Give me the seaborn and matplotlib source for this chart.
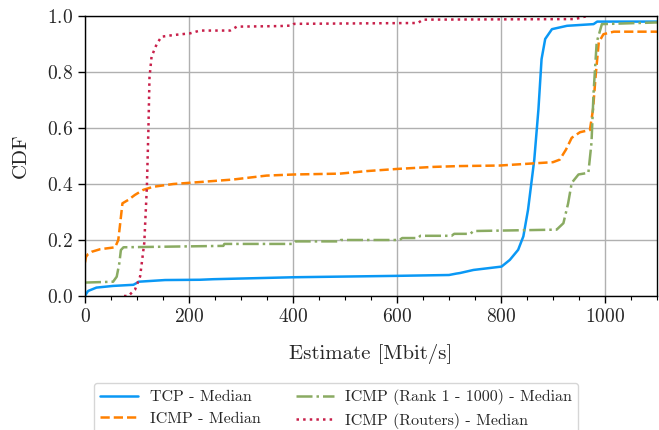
import matplotlib
matplotlib.use("Agg")
import matplotlib.pyplot as plt
import seaborn as sns
import pandas as pd
from matplotlib.ticker import MultipleLocator

# ---- data (x = Mbit/s, y = CDF) ----
tcp_x = [0, 3, 6, 22, 54, 93, 100, 103, 154, 221, 247, 402, 602, 700, 714, 721, 747,
         801, 817, 833, 843, 852, 864, 872, 878, 885, 898, 927, 978, 985, 1100]
tcp_y = [0, 0.01, 0.018, 0.03, 0.036, 0.04, 0.047, 0.051, 0.057, 0.058, 0.06, 0.067,
         0.072, 0.075, 0.08, 0.082, 0.093, 0.105, 0.129, 0.165, 0.213, 0.308, 0.487,
         0.667, 0.846, 0.918, 0.953, 0.965, 0.971, 0.98, 0.98]

icmp_x = [0, 2, 6, 13, 29, 58, 64, 67, 72, 83, 96, 112, 131, 170, 221, 285, 349, 402,
          490, 541, 602, 669, 719, 798, 900, 913, 925, 936, 952, 971, 977, 982, 988,
          997, 1017, 1100]
icmp_y = [0.12, 0.14, 0.15, 0.158, 0.167, 0.174, 0.2, 0.248, 0.331, 0.343, 0.361,
          0.379, 0.39, 0.4, 0.407, 0.416, 0.43, 0.434, 0.437, 0.446, 0.454, 0.461,
          0.464, 0.466, 0.478, 0.487, 0.523, 0.565, 0.585, 0.593, 0.667, 0.786, 0.906,
          0.935, 0.944, 0.944]

rank_x = [0, 54, 61, 66, 69, 74, 150, 266, 268, 400, 405, 490, 492, 605, 610, 640, 645,
          705, 710, 741, 747, 907, 920, 929, 936, 949, 968, 974, 978, 984, 994, 1100]
rank_y = [0.048, 0.051, 0.069, 0.117, 0.164, 0.174, 0.176, 0.179, 0.186, 0.186, 0.195,
          0.195, 0.2, 0.2, 0.207, 0.207, 0.215, 0.215, 0.222, 0.222, 0.232, 0.237, 0.26,
          0.33, 0.404, 0.434, 0.44, 0.547, 0.726, 0.906, 0.971, 0.977]

router_x = [75, 83, 96, 106, 114, 119, 122, 124, 128, 138, 147, 170, 202, 221, 279, 292,
            375, 398, 402, 640, 650, 940, 952, 965]
router_y = [0.0, 0.0, 0.022, 0.07, 0.19, 0.39, 0.6, 0.78, 0.855, 0.9, 0.926, 0.932,
            0.938, 0.948, 0.948, 0.962, 0.964, 0.966, 0.972, 0.975, 0.987, 0.989, 0.993,
            1.0]

labels = ["TCP - Median", "ICMP - Median", "ICMP (Rank 1 - 1000) - Median",
          "ICMP (Routers) - Median"]
colors = ["#0a98f5", "#ff8000", "#8aab62", "#c8204a"]
styles = ["-", "--", "-.", ":"]

sns.set_style("whitegrid")
plt.rcParams["font.family"] = ["cmr10", "DejaVu Serif"]
plt.rcParams["mathtext.fontset"] = "cm"
plt.rcParams["axes.formatter.use_mathtext"] = True

fig = plt.figure(figsize=(6.59, 4.30), dpi=100)
ax = fig.add_axes([85 / 659, 1 - 296 / 430, (657 - 85) / 659, (296 - 16) / 430])

series = [(tcp_x, tcp_y), (icmp_x, icmp_y), (rank_x, rank_y), (router_x, router_y)]
for (xs, ys), lab, col, ls in zip(series, labels, colors, styles):
    df = pd.DataFrame({"x": xs, "y": ys})
    sns.lineplot(data=df, x="x", y="y", ax=ax, sort=False, estimator=None,
                 color=col, linestyle=ls, linewidth=1.8, label=lab)

ax.set_xlim(0, 1100)
ax.set_ylim(0, 1.0)
ax.xaxis.set_major_locator(MultipleLocator(200))
ax.xaxis.set_minor_locator(MultipleLocator(50))
ax.yaxis.set_major_locator(MultipleLocator(0.2))
ax.grid(True, which="major", color="#b0b0b0", linewidth=1.0)
ax.grid(False, which="minor")
for s in ax.spines.values():
    s.set_color("black")
    s.set_linewidth(1.0)
ax.tick_params(axis="both", which="major", direction="out", length=5, width=1,
               color="black", labelsize=14, bottom=True, left=True)
ax.tick_params(axis="x", which="minor", direction="out", length=3, width=0.8,
               color="black", bottom=True)
ax.set_xlabel("Estimate [Mbit/s]", fontsize=15, labelpad=13)
ax.set_ylabel("CDF", fontsize=15, labelpad=12)

ax.get_legend().remove()
handles, labs = ax.get_legend_handles_labels()
leg = fig.legend(handles, labs, loc="upper center", ncol=2,
                 bbox_to_anchor=(336 / 659, 1 - 383 / 430), borderaxespad=0,
                 fontsize=11.5, frameon=True, fancybox=True, edgecolor="#cccccc",
                 handlelength=2.4, handletextpad=0.7, columnspacing=2.2,
                 borderpad=0.4, labelspacing=0.45)

fig.savefig("out.png", dpi=100)
